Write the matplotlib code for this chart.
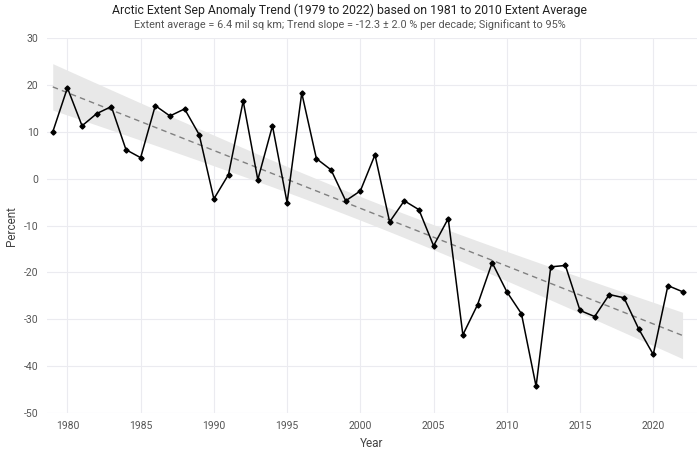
import numpy as np
import matplotlib.pyplot as plt

plt.rcParams['font.family'] = ['Roboto', 'DejaVu Sans']
plt.rcParams['axes.unicode_minus'] = False

years = list(range(1979, 2023))
anomaly = [10.0, 19.4, 11.3, 13.9, 15.4, 6.2, 4.5, 15.6, 13.4, 14.9,
           9.4, -4.3, 0.9, 16.6, -0.2, 11.3, -5.1, 18.3, 4.3, 1.9,
           -4.7, -2.6, 5.1, -9.2, -4.7, -6.6, -14.3, -8.5, -33.3, -26.9,
           -17.9, -24.1, -28.8, -44.3, -18.8, -18.5, -28.1, -29.4, -24.7, -25.4,
           -32.0, -37.5, -22.8, -24.1]

x = np.array(years, dtype=float)
y = np.array(anomaly)

# linear trend + 95% confidence band
slope, icpt = np.polyfit(x, y, 1)
fit = slope * x + icpt
n = len(x)
resid = y - fit
s = np.sqrt(np.sum(resid ** 2) / (n - 2))
se = s * np.sqrt(1 / n + (x - x.mean()) ** 2 / np.sum((x - x.mean()) ** 2))
band = 2.02 * se

fig = plt.figure(figsize=(7, 4.49), dpi=100)
ax = fig.add_axes([0.067, 0.080, 0.929, 0.835])

ax.fill_between(x, fit - band, fit + band, color='#e8e8e8', lw=0, zorder=1)
ax.plot(x, fit, color='#808080', ls=(0, (4, 3)), lw=1, zorder=2)
ax.plot(x, y, color='black', lw=1.1, marker='D', ms=2.6, zorder=3)

ax.set_xlim(1978.6, 2023.0)
ax.set_ylim(-50, 30)
ax.set_xticks(range(1980, 2021, 5))
ax.set_yticks(range(-50, 31, 10))
ax.grid(True, color='#ebebf0', lw=0.8)
ax.set_axisbelow(True)
for sp in ax.spines.values():
    sp.set_visible(False)
ax.tick_params(length=0, labelsize=7.5, labelcolor='#555555', pad=6)

ax.set_xlabel('Year', fontsize=8.5, color='#444444', labelpad=4)
ax.set_ylabel('Percent', fontsize=8.5, color='#444444', va='center')
ax.yaxis.set_label_coords(-0.054, 0.5)

fig.text(0.5, 0.977, 'Arctic Extent Sep Anomaly Trend (1979 to 2022) based on 1981 to 2010 Extent Average',
         ha='center', va='center', fontsize=8.8, color='#222222')
fig.text(0.5, 0.946, 'Extent average = 6.4 mil sq km; Trend slope = -12.3 \u00b1 2.0 % per decade; Significant to 95%',
         ha='center', va='center', fontsize=7.8, color='#555555')

fig.savefig('out.png', dpi=100)
